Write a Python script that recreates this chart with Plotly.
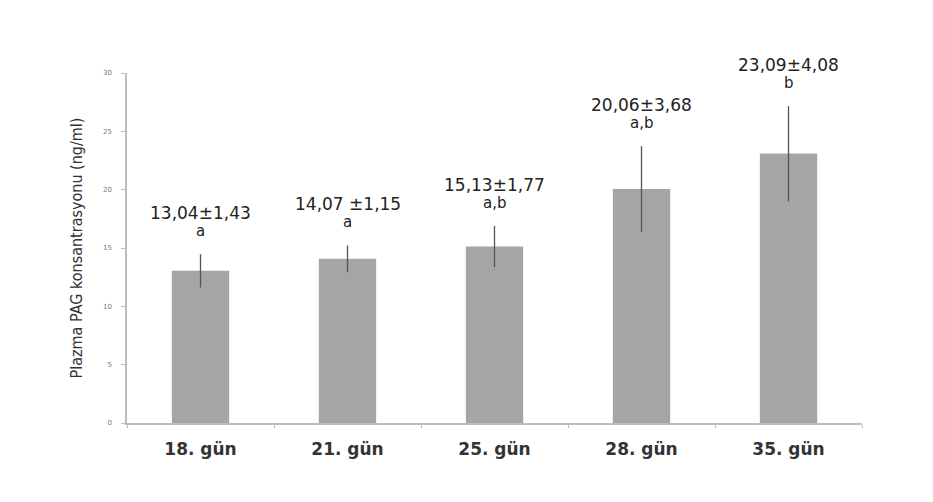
import plotly.graph_objects as go

categories = ["18. gün", "21. gün", "25. gün", "28. gün", "35. gün"]
means = [13.04, 14.07, 15.13, 20.06, 23.09]
sds = [1.43, 1.15, 1.77, 3.68, 4.08]
value_labels = ["13,04±1,43", "14,07 ±1,15", "15,13±1,77", "20,06±3,68", "23,09±4,08"]
letters = ["a", "a", "a,b", "a,b", "b"]
y_ticks = [0, 5, 10, 15, 20, 25, 30]

fig = go.Figure()
fig.add_trace(go.Bar(
    x=categories, y=means, width=0.39,
    marker=dict(color="#a5a5a5", line=dict(width=0)),
    error_y=dict(type="data", array=sds, visible=True, color="#555555", thickness=1.3, width=0),
))

for i, (c, m, s) in enumerate(zip(categories, means, sds)):
    top = m + s
    fig.add_annotation(x=c, y=top, yref="y", text=value_labels[i], showarrow=False,
                       yshift=41, font=dict(family="DejaVu Sans", size=17, color="#222222"))
    fig.add_annotation(x=c, y=top, yref="y", text=letters[i], showarrow=False,
                       yshift=23, font=dict(family="DejaVu Sans", size=15, color="#222222"))

fig.update_layout(
    width=933, height=502,
    margin=dict(l=127, r=71, t=73, b=79),
    paper_bgcolor="white", plot_bgcolor="white",
    showlegend=False, bargap=0.6,
    xaxis=dict(showline=True, linecolor="#bdbdbd", linewidth=1.5, ticks="outside", ticklen=3,
               tickcolor="#bdbdbd", tickson="boundaries", ticklabelstandoff=10,
               tickfont=dict(family="DejaVu Sans", size=17, color="#333333", weight="bold")),
    yaxis=dict(range=[0, 30], tickvals=y_ticks, showgrid=False, zeroline=False,
               showline=True, linecolor="#bdbdbd", linewidth=1.5, ticks="outside", ticklen=4,
               tickcolor="#bdbdbd", ticklabelstandoff=8,
               tickfont=dict(family="DejaVu Sans", size=7, color="#777777"),
               title=dict(text="Plazma PAG konsantrasyonu (ng/ml)", standoff=16,
                          font=dict(family="DejaVu Sans Condensed", size=16, color="#333333"))),
)

fig.write_html("out.html")
